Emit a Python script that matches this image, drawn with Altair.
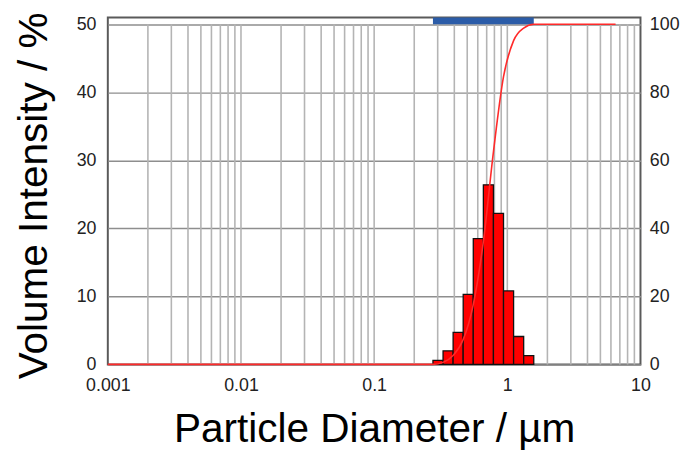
import altair as alt
import pandas as pd

# Bin edges (particle diameter, µm) and volume intensity (%)
bin_edges = [0.2764, 0.3292, 0.3917, 0.4663, 0.5551, 0.6608, 0.7867, 0.9365, 1.1148, 1.3271, 1.5797]
volume = [0.6, 2.0, 4.7, 10.3, 18.5, 26.4, 22.2, 10.8, 4.1, 1.3]

# Cumulative curve (right axis, %)
cum_x = [0.001, 0.2764, 0.3292, 0.3917, 0.4663, 0.5551, 0.6608, 0.7867, 0.9365, 1.1148, 1.3271, 1.5797, 6.5]
cum_y = [0.0, 0.0, 0.6, 2.6, 7.3, 17.6, 36.1, 62.5, 84.6, 95.2, 98.9, 100.0, 100.0]

# Measured range band (top strip)
range_lo = [0.2764]
range_hi = [1.5797]

# Axis ticks
x_labels = [0.001, 0.01, 0.1, 1, 10]
grid_mult = [1, 2, 3, 4, 5, 6, 7, 8, 9]
grid_decades = [0.001, 0.01, 0.1, 1]
y_left_ticks = [0, 10, 20, 30, 40, 50]
y_right_ticks = [0, 20, 40, 60, 80, 100]

grid_x = [m * d for d in grid_decades for m in grid_mult][1:]

FONT = "Liberation Sans"

bars_df = pd.DataFrame({"lo": bin_edges[:-1], "hi": bin_edges[1:], "v": volume})
cum_df = pd.DataFrame({"d": cum_x, "c": cum_y})
grid_df = pd.DataFrame({"g": grid_x, "y0": [0] * len(grid_x), "y1": [50] * len(grid_x)})
band_df = pd.DataFrame({"lo": range_lo, "hi": range_hi, "y0": [50], "y1": [51]})

xscale = alt.Scale(type="log", domain=[0.001, 10])
yscale = alt.Scale(domain=[0, 51], nice=False, zero=False)

x_axis = alt.Axis(
    values=x_labels, format="~g", grid=False, ticks=False, domain=False,
    labelPadding=12, labelFontSize=18, labelFlush=False, labelOverlap=False,
    labelColor="#222", labelFont=FONT,
    title="Particle Diameter / µm", titleFontSize=41, titleFontWeight="normal",
    titleFont=FONT, titleColor="#000", titleBaseline="alphabetic", titleY=78,
)

y_left_axis = alt.Axis(
    values=y_left_ticks, grid=True, gridColor="#8e8e8e", gridWidth=1.5,
    ticks=False, domain=False, labelPadding=12, labelFontSize=18,
    labelColor="#222", labelFont=FONT, labelFlush=False,
    title="Volume Intensity / %", titleFontSize=41, titleFontWeight="normal",
    titleFont=FONT, titleColor="#000", titleAngle=270, titleBaseline="middle",
    titleAlign="center", titleX=-74, titleY=180,
)

rules = alt.Chart(grid_df).mark_rule(color="#b4b4b4", strokeWidth=1.6).encode(
    x=alt.X("g:Q", scale=xscale, axis=x_axis),
    y=alt.Y("y0:Q", scale=yscale, axis=y_left_axis),
    y2="y1:Q",
)

band = alt.Chart(band_df).mark_rect(color="#2b5ca8").encode(
    x=alt.X("lo:Q", scale=xscale),
    x2="hi:Q",
    y=alt.Y("y0:Q", scale=yscale),
    y2="y1:Q",
)

bars = alt.Chart(bars_df).mark_rect(color="#ff0000", stroke="#111", strokeWidth=1.3).encode(
    x=alt.X("lo:Q", scale=xscale),
    x2="hi:Q",
    y=alt.Y("v:Q", scale=yscale),
    y2=alt.datum(0),
)

left = alt.layer(rules, band, bars)

line = alt.Chart(cum_df).mark_line(color="#ff2a2a", strokeWidth=1.6, interpolate="monotone").encode(
    x=alt.X("d:Q", scale=xscale),
    y=alt.Y("c:Q", scale=alt.Scale(domain=[0, 102], nice=False), axis=alt.Axis(
        orient="right", values=y_right_ticks, grid=False, ticks=False, domain=False,
        labelPadding=9, labelFontSize=18, labelColor="#222", labelFont=FONT,
        labelFlush=False, title="",
    )),
)

chart = alt.layer(left, line).resolve_scale(y="independent").properties(
    width=539, height=351,
    autosize=alt.AutoSizeParams(type="none"),
    padding={"left": 101, "top": 7, "right": 41, "bottom": 86},
).configure_view(stroke="#5a5a5a", strokeWidth=2)

chart.save("out.html", embed_options={"renderer": "svg", "actions": False})
